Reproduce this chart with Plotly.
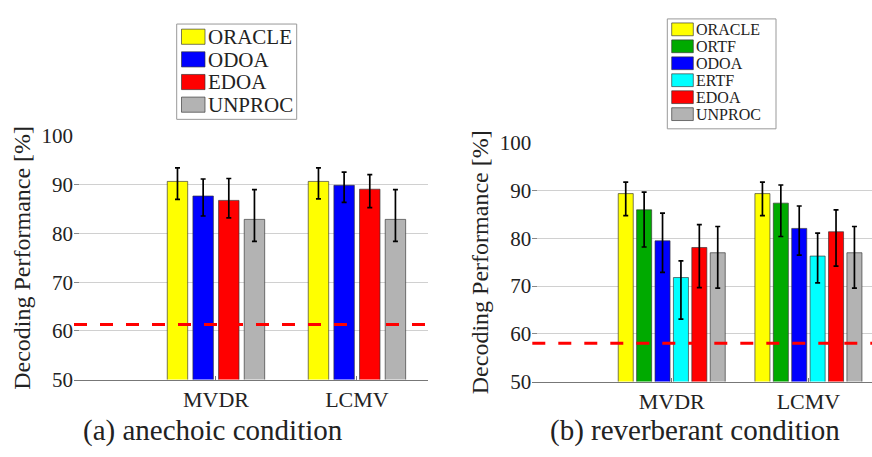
import plotly.graph_objects as go
import numpy as np

# ---------------- data ----------------
methods = ["MVDR", "LCMV"]

a_series = ["ORACLE", "ODOA", "EDOA", "UNPROC"]
a_colors = ["#FFFF00", "#0000FF", "#FF0000", "#B3B3B3"]
a_mean = [[90.7, 90.7], [87.7, 89.9], [86.8, 89.1], [82.9, 82.9]]
a_upper = [[93.5, 93.5], [91.2, 92.6], [91.3, 92.1], [89.0, 89.0]]
a_lower = [[87.0, 87.1], [83.6, 86.4], [83.2, 85.3], [78.4, 78.4]]

b_series = ["ORACLE", "ORTF", "ODOA", "ERTF", "EDOA", "UNPROC"]
b_colors = ["#FFFF00", "#00AA00", "#0000FF", "#00FFFF", "#FF0000", "#B3B3B3"]
b_mean = [[89.4, 89.4], [86.0, 87.4], [79.5, 82.1], [71.8, 76.3], [78.1, 81.4], [77.0, 77.0]]
b_upper = [[91.8, 91.8], [89.7, 91.2], [85.3, 86.8], [75.3, 81.1], [82.9, 86.0], [82.5, 82.5]]
b_lower = [[84.8, 84.8], [78.2, 80.4], [72.9, 76.5], [63.1, 70.7], [69.7, 74.2], [69.6, 69.6]]

chance = [61.3, 58.0]
captions = ["(a) anechoic condition", "(b) reverberant condition"]
y_title = "Decoding Performance [%]"
y_ticks = [50, 60, 70, 80, 90, 100]

# ---------------- layout helpers ----------------
W, H = 872, 457
FONT = "Liberation Serif, serif"
TXT = "#222222"


def X(px):
    return px / W


def Y(py):
    return 1 - py / H


fig = go.Figure()
pos = np.arange(len(methods)) + 2  # empty slot at 1


def add_panel(series, colors, mean, upper, lower, xa, ya, slot, width):
    n = len(series)
    for i, (name, col) in enumerate(zip(series, colors)):
        m = np.array(mean[i])
        up = np.array(upper[i]) - m
        lo = m - np.array(lower[i])
        off = (i - (n - 1) / 2) * slot - width / 2
        fig.add_trace(go.Bar(
            x=pos, y=m, name=name, xaxis=xa, yaxis=ya,
            width=width, offset=off,
            marker=dict(color=col, line=dict(color="rgba(50,50,50,0.65)", width=1)),
            error_y=dict(type="data", symmetric=False, array=up, arrayminus=lo,
                         color="black", thickness=1.7, width=2.5),
            showlegend=False,
        ))


add_panel(a_series, a_colors, a_mean, a_upper, a_lower, "x", "y", 0.182, 0.145)
add_panel(b_series, b_colors, b_mean, b_upper, b_lower, "x2", "y2", 0.1346, 0.110)

axis_common_y = dict(
    range=[50, 100], tickvals=y_ticks, showgrid=True, gridcolor="#D0D0D0", gridwidth=1,
    ticks="inside", ticklen=5, tickcolor="#888888", showline=False, zeroline=False,
    tickfont=dict(family=FONT, size=21, color=TXT),
    title=dict(text=y_title, font=dict(family=FONT, size=24, color=TXT), standoff=4),
)
axis_common_x = dict(
    tickvals=pos, ticktext=methods, showgrid=False, zeroline=False,
    showline=True, linecolor="#777777", linewidth=1,
    ticks="inside", ticklen=4, tickcolor="#777777",
    tickfont=dict(family=FONT, size=22, color=TXT),
)

fig.update_layout(
    width=W, height=H, margin=dict(l=0, r=0, t=0, b=0),
    paper_bgcolor="white", plot_bgcolor="white",
    barmode="overlay",
    xaxis=dict(domain=[X(74), X(428)], range=[0.993, 3.504], anchor="y", **axis_common_x),
    yaxis=dict(domain=[Y(388), Y(131)], anchor="x", **axis_common_y),
    xaxis2=dict(domain=[X(532.3), 1.0], range=[0.98, 3.465], anchor="y2", **axis_common_x),
    yaxis2=dict(domain=[Y(390), Y(138.3)], anchor="x2", **axis_common_y),
)

shapes = []
annotations = []

# chance-level dashed lines
for xr, yr, c in [("x domain", "y", chance[0]), ("x2 domain", "y2", chance[1])]:
    shapes.append(dict(type="line", xref=xr, yref=yr, x0=0, x1=1, y0=c, y1=c,
                       line=dict(color="#FF0000", width=3, dash="13px,13px"), layer="above"))


# legends drawn as boxes
def legend(series, colors, box, sw_x, sw_w, sw_h, first, step, text_x, fsize):
    x0, y0, x1, y1 = box
    shapes.append(dict(type="rect", xref="paper", yref="paper",
                       x0=X(x0), x1=X(x1), y0=Y(y1), y1=Y(y0),
                       line=dict(color="#999999", width=1), fillcolor="white", layer="above"))
    for k, (name, col) in enumerate(zip(series, colors)):
        cy = first + k * step
        shapes.append(dict(type="rect", xref="paper", yref="paper",
                           x0=X(sw_x), x1=X(sw_x + sw_w), y0=Y(cy + sw_h / 2), y1=Y(cy - sw_h / 2),
                           line=dict(color="rgba(50,50,50,0.65)", width=1), fillcolor=col, layer="above"))
        annotations.append(dict(xref="paper", yref="paper", x=X(text_x), y=Y(cy + 0.5),
                                xanchor="left", yanchor="middle", showarrow=False, text=name,
                                borderpad=0,
                                font=dict(family=FONT, size=fsize, color=TXT)))


legend(a_series, a_colors, (176.7, 12.7, 296.7, 113.3), 181.5, 23.5, 16,
       26.1, 23.9, 207, 21)
legend(b_series, b_colors, (667.3, 7.3, 776, 123.3), 671.7, 21.6, 13.5,
       18.3, 17.9, 695, 16)

# captions
annotations.append(dict(xref="paper", yref="paper", x=X(213), y=Y(442), xanchor="center",
                        yanchor="middle", showarrow=False, text=captions[0],
                        font=dict(family=FONT, size=29, color=TXT)))
annotations.append(dict(xref="paper", yref="paper", x=X(694.5), y=Y(442), xanchor="center",
                        yanchor="middle", showarrow=False, text=captions[1],
                        font=dict(family=FONT, size=29, color=TXT)))

fig.update_layout(shapes=shapes, annotations=annotations)
fig.write_html("out.html", config={"displayModeBar": False},
               post_script="document.body.style.margin='0px';")
